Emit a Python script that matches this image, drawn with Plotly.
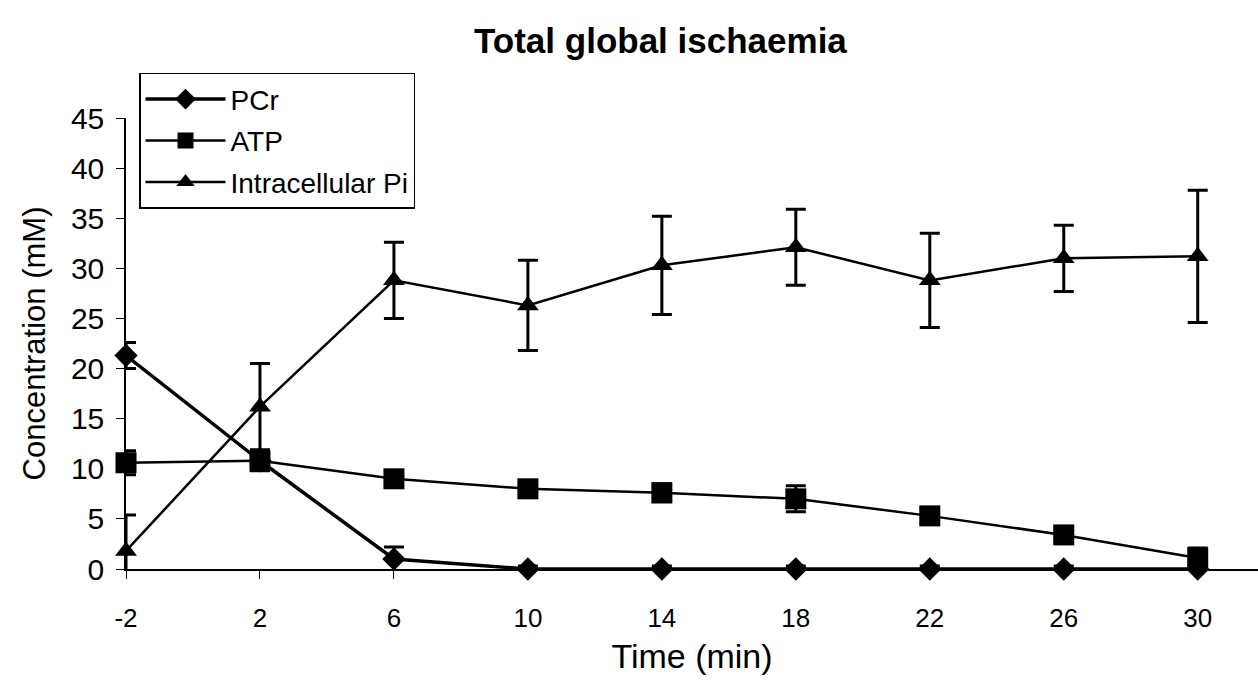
import plotly.graph_objects as go

# Sampling times (min) relative to onset of ischaemia
time_min = [-2, 2, 6, 10, 14, 18, 22, 26, 30]

# Mean concentrations (mM) and error bar half-widths
pcr = [21.3, 10.8, 1.0, 0.0, 0.0, 0.0, 0.0, 0.0, 0.0]
pcr_err = [1.3, 0.5, 1.2, 0.3, 0.3, 0.3, 0.3, 0.3, 0.3]

atp = [10.6, 10.8, 9.0, 8.0, 7.6, 7.0, 5.3, 3.4, 1.1]
atp_err = [1.2, 1.0, 0.8, 0.5, 0.9, 1.3, 0.7, 0.6, 1.0]

pi_intra = [1.8, 16.2, 28.8, 26.3, 30.3, 32.1, 28.8, 31.0, 31.2]
pi_err = [3.6, 4.3, 3.8, 4.5, 4.9, 3.8, 4.7, 3.3, 6.6]

x_ticks = [-2, 2, 6, 10, 14, 18, 22, 26, 30]
y_ticks = [0, 5, 10, 15, 20, 25, 30, 35, 40, 45]

FONT = "Liberation Sans, Arial, sans-serif"

fig = go.Figure()


def add_series(name, y, err, symbol, size, width, group):
    fig.add_trace(go.Scatter(
        x=time_min, y=y, name=name, mode="lines+markers",
        legendgroup=group,
        line=dict(color="black", width=width),
        marker=dict(symbol=symbol, size=size, color="black"),
        error_y=dict(type="data", array=err, visible=True,
                     color="black", thickness=3, width=10),
        cliponaxis=False,
    ))


add_series("PCr", pcr, pcr_err, "diamond", 18, 3.5, "a")
add_series("ATP", atp, atp_err, "square", 21, 2.5, "b")
add_series("Intracellular Pi", pi_intra, pi_err, "triangle-up", 19, 2.5, "c")

fig.update_layout(
    width=1258, height=681,
    paper_bgcolor="white", plot_bgcolor="white",
    margin=dict(l=126, r=0, t=118, b=112),
    font=dict(family=FONT, color="black"),
    title=dict(text="<b>Total global ischaemia</b>", x=0.525, xanchor="center",
               y=0.94, yanchor="middle", font=dict(size=35)),
    showlegend=True,
    legend=dict(x=0.0115, y=1.1, xanchor="left", yanchor="top",
                bordercolor="black", borderwidth=1.5, bgcolor="white",
                font=dict(size=28), tracegroupgap=2, itemwidth=80),
    xaxis=dict(range=[-2, 31.8], tickvals=x_ticks, ticktext=[str(v) for v in x_ticks],
               showgrid=False, zeroline=False, showline=True, linecolor="black",
               linewidth=1.5, ticks="outside", ticklen=8, tickcolor="black",
               tickfont=dict(size=26), ticklabelstandoff=17,
               title=dict(text="Time (min)", font=dict(size=34), standoff=12)),
    yaxis=dict(range=[0, 45], tickvals=y_ticks, showgrid=False, zeroline=False,
               showline=True, linecolor="black", linewidth=1.5, ticks="outside",
               ticklen=8, tickcolor="black", tickfont=dict(size=30),
               ticklabelstandoff=6,
               title=dict(text="Concentration (mM)", font=dict(size=31), standoff=16)),
)

fig.write_html("out.html")
